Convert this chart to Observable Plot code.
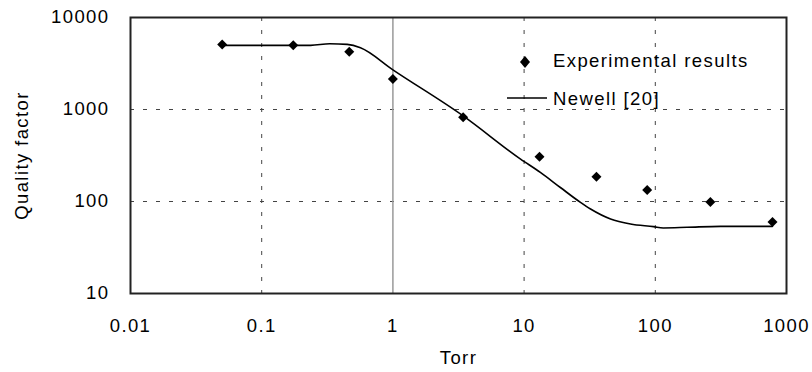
<!DOCTYPE html>
<html>
<head>
<meta charset="utf-8">
<script src="https://cdn.jsdelivr.net/npm/d3@7"></script>
<script src="https://cdn.jsdelivr.net/npm/@observablehq/plot@0.6"></script>
<style>
  html, body { margin: 0; padding: 0; background: #fff; }
  #wrap { position: relative; width: 812px; height: 372px; font-family: "Liberation Sans", Arial, sans-serif; }
  #legend { position: absolute; left: 500px; top: 40px; width: 280px; height: 80px; }
</style>
</head>
<body>
<div id="wrap"></div>
<script>
// Experimental results
const pressure = [0.05, 0.174, 0.465, 1.0, 3.43, 13.1, 35.6, 86.7, 263, 782];
const quality  = [5100, 4980, 4250, 2150, 825, 306, 186, 133, 99, 60];
// Newell [20] model curve
const newellP = [0.05, 0.174, 0.236, 0.33, 0.449, 0.566, 1.0, 3.43, 9.4, 13.3, 18.9, 26.9, 32.1, 45.6, 64.7, 96.9, 115, 175, 314, 782];
const newellQ = [4980, 4980, 4980, 5190, 5100, 4690, 2700, 853, 289, 207, 142, 97.8, 82.9, 64.6, 57.0, 53.3, 51.6, 52.4, 53.7, 53.7];
// Axes
const xTicks = [0.01, 0.1, 1, 10, 100, 1000];
const yTicks = [10, 100, 1000, 10000];
const xGrid = [0.1, 10, 100];
const xCross = [1];
const yGrid = [100, 1000];
const seriesNames = ["Experimental results", "Newell [20]"];

const exp = pressure.map((p, i) => ({p, q: quality[i]}));
const model = newellP.map((p, i) => ({p, q: newellQ[i]}));

const chart = Plot.plot({
  width: 812,
  height: 372,
  marginLeft: 130,
  marginRight: 26,
  marginTop: 17,
  marginBottom: 79,
  style: {fontFamily: "'Liberation Sans', Arial, sans-serif", fontSize: "18.5px", letterSpacing: "1.4px", color: "#000", background: "#fff"},
  x: {type: "log", domain: [0.01, 1000], ticks: xTicks, tickFormat: d => String(d), tickSize: 0, tickPadding: 25,
      label: "Torr", labelAnchor: "center", labelArrow: "none", labelOffset: 70},
  y: {type: "log", domain: [10, 10000], ticks: yTicks, tickFormat: d => String(d), tickSize: 0, tickPadding: 21,
      label: "Quality factor", labelAnchor: "center", labelArrow: "none", labelOffset: 116},
  marks: [
    Plot.ruleX(xGrid, {stroke: "#444", strokeWidth: 1, strokeDasharray: "4,9"}),
    Plot.ruleY(yGrid, {stroke: "#444", strokeWidth: 1, strokeDasharray: "4,9"}),
    Plot.ruleX(xCross, {stroke: "#999", strokeWidth: 1.5}),
    Plot.line(model, {x: "p", y: "q", stroke: "#000", strokeWidth: 1.6, curve: "monotone-x"}),
    Plot.dot(exp, {x: "p", y: "q", symbol: "diamond2", r: 4.5, fill: "#000", stroke: "none"}),
    Plot.frame({stroke: "#222", strokeWidth: 2})
  ]
});
document.getElementById("wrap").appendChild(chart);

// Legend
const lg = document.createElementNS("http://www.w3.org/2000/svg", "svg");
lg.setAttribute("id", "legend");
lg.setAttribute("width", 280);
lg.setAttribute("height", 80);
lg.innerHTML = `
  <path d="M25,16 L30,22 L25,28 L20,22 Z" fill="#000"/>
  <text x="53" y="27" font-size="18.5" letter-spacing="1.4" font-family="'Liberation Sans', Arial, sans-serif">${seriesNames[0]}</text>
  <line x1="7" x2="47" y1="58" y2="58" stroke="#000" stroke-width="1.6"/>
  <text x="53" y="65" font-size="18.5" letter-spacing="1.4" font-family="'Liberation Sans', Arial, sans-serif">${seriesNames[1]}</text>
`;
document.getElementById("wrap").appendChild(lg);
</script>
</body>
</html>
